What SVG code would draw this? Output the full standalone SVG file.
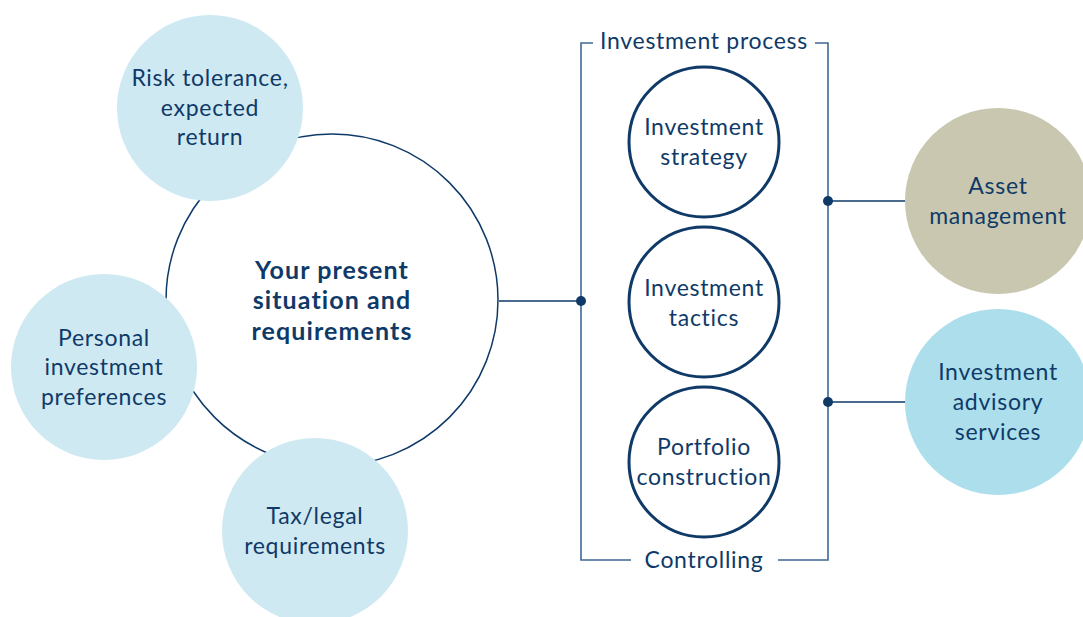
<svg xmlns="http://www.w3.org/2000/svg" width="1083" height="617" viewBox="0 0 1083 617">
<style>
text{font-family:"Lato","Noto Sans",sans-serif;font-size:23px;letter-spacing:0.7px;fill:#0f3a68;text-anchor:middle}
.b{font-weight:bold;font-size:25px;letter-spacing:1.1px}
.lt{fill:#cfe9f2}
.pc{fill:#fff;stroke:#0f3a68;stroke-width:3}
.br{fill:none;stroke:#3e6897;stroke-width:1.6}
.cn{fill:none;stroke:#0f3a68;stroke-width:1.4}
.dot{fill:#0f3a68}
</style>
<rect width="1083" height="617" fill="#fff"/>
<g id="connectors">
<line class="cn" x1="499" y1="301" x2="581" y2="301"/>
<line class="cn" x1="828" y1="201" x2="910" y2="201"/>
<line class="cn" x1="828" y1="402" x2="910" y2="402"/>
<polyline class="br" points="593,43 581,43 581,560 631,560"/>
<polyline class="br" points="815,43 828,43 828,560 778,560"/>
<circle class="dot" cx="581" cy="301" r="5"/>
<circle class="dot" cx="828" cy="201" r="5"/>
<circle class="dot" cx="828" cy="402" r="5"/>
<text x="704" y="49">Investment process</text>
<text x="704" y="568">Controlling</text>
</g>
<g id="center">
<circle cx="332" cy="300" r="166" fill="#fff" stroke="#0f3a68" stroke-width="1.5"/>
<text class="b" x="332" y="279">Your present</text>
<text class="b" x="332" y="309">situation and</text>
<text class="b" x="332" y="340">requirements</text>
</g>
<g id="risk">
<circle class="lt" cx="210" cy="108" r="93"/>
<text x="210" y="86">Risk tolerance,</text>
<text x="210" y="116">expected</text>
<text x="210" y="145">return</text>
</g>
<g id="personal">
<circle class="lt" cx="104" cy="367" r="93"/>
<text x="104" y="346">Personal</text>
<text x="104" y="375">investment</text>
<text x="104" y="405">preferences</text>
</g>
<g id="tax">
<circle class="lt" cx="315" cy="531" r="93"/>
<text x="315" y="524">Tax/legal</text>
<text x="315" y="554">requirements</text>
</g>
<g id="strategy">
<circle class="pc" cx="704" cy="142" r="75"/>
<text x="704" y="135">Investment</text>
<text x="704" y="165">strategy</text>
</g>
<g id="tactics">
<circle class="pc" cx="704" cy="302" r="75"/>
<text x="704" y="296">Investment</text>
<text x="704" y="326">tactics</text>
</g>
<g id="portfolio">
<circle class="pc" cx="704" cy="462" r="75"/>
<text x="704" y="455">Portfolio</text>
<text x="704" y="485">construction</text>
</g>
<g id="asset">
<circle cx="998" cy="201" r="93" fill="#c9c7af"/>
<text x="998" y="194">Asset</text>
<text x="998" y="224">management</text>
</g>
<g id="advisory">
<circle cx="998" cy="402" r="93" fill="#acdeeb"/>
<text x="998" y="380">Investment</text>
<text x="998" y="410">advisory</text>
<text x="998" y="440">services</text>
</g>
</svg>
